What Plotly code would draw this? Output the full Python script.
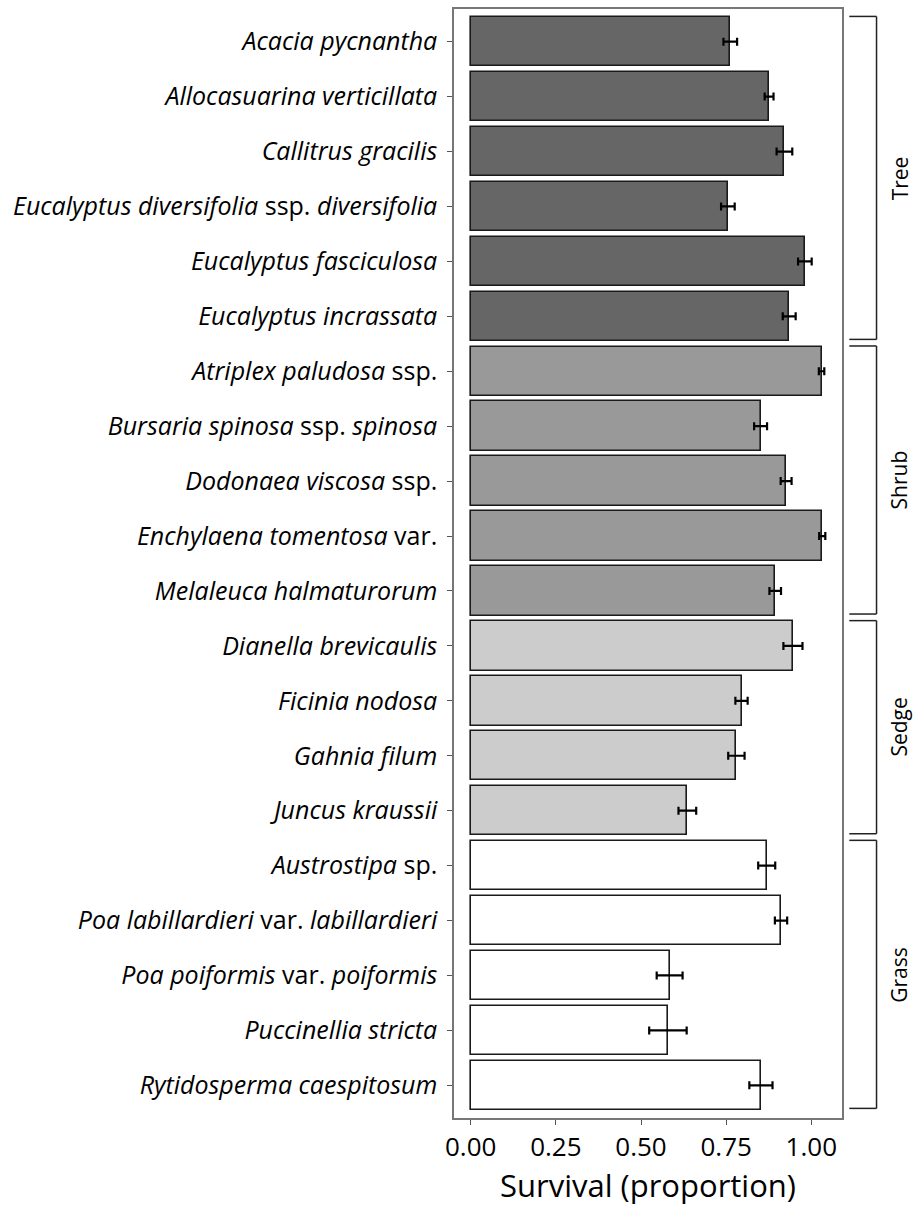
import plotly.graph_objects as go

species = [
    "<i>Acacia pycnantha</i>",
    "<i>Allocasuarina verticillata</i>",
    "<i>Callitrus gracilis</i>",
    "<i>Eucalyptus diversifolia</i> ssp. <i>diversifolia</i>",
    "<i>Eucalyptus fasciculosa</i>",
    "<i>Eucalyptus incrassata</i>",
    "<i>Atriplex paludosa</i> ssp.",
    "<i>Bursaria spinosa</i> ssp. <i>spinosa</i>",
    "<i>Dodonaea viscosa</i> ssp.",
    "<i>Enchylaena tomentosa</i> var.",
    "<i>Melaleuca halmaturorum</i>",
    "<i>Dianella brevicaulis</i>",
    "<i>Ficinia nodosa</i>",
    "<i>Gahnia filum</i>",
    "<i>Juncus kraussii</i>",
    "<i>Austrostipa</i> sp.",
    "<i>Poa labillardieri</i> var. <i>labillardieri</i>",
    "<i>Poa poiformis</i> var. <i>poiformis</i>",
    "<i>Puccinellia stricta</i>",
    "<i>Rytidosperma caespitosum</i>",
]
groups = ["Tree"] * 6 + ["Shrub"] * 5 + ["Sedge"] * 4 + ["Grass"] * 5
survival = [0.762, 0.876, 0.921, 0.755, 0.981, 0.935,
            1.030, 0.851, 0.926, 1.032, 0.894,
            0.946, 0.795, 0.780, 0.636,
            0.869, 0.911, 0.584, 0.579, 0.852]
se = [0.020, 0.013, 0.023, 0.020, 0.020, 0.019,
      0.008, 0.019, 0.016, 0.009, 0.017,
      0.028, 0.018, 0.024, 0.026,
      0.025, 0.018, 0.038, 0.055, 0.034]
group_order = ["Tree", "Shrub", "Sedge", "Grass"]
group_colors = {"Tree": "#666666", "Shrub": "#999999", "Sedge": "#cccccc", "Grass": "#ffffff"}
x_ticks = [0.0, 0.25, 0.5, 0.75, 1.0]
x_ticklabels = ["0.00", "0.25", "0.50", "0.75", "1.00"]

FONT = "Open Sans"
ypos = list(range(len(species)))

fig = go.Figure()
fig.add_trace(go.Bar(
    x=survival, y=ypos, orientation="h", width=0.9,
    marker=dict(color=[group_colors[g] for g in groups],
                line=dict(color="#1a1a1a", width=1.6)),
    error_x=dict(type="data", array=se, color="#000000", thickness=2.2, width=4),
    showlegend=False, hoverinfo="skip",
))

shapes = []
annotations = []
x_in, x_out = 1.0188, 1.089
for g in group_order:
    idx = [i for i, gg in enumerate(groups) if gg == g]
    top = idx[0] - 0.46
    bot = idx[-1] + 0.42
    lc = dict(color="#222222", width=1.5)
    shapes.append(dict(type="line", xref="paper", yref="y", x0=x_in, x1=x_out, y0=top, y1=top, line=lc))
    shapes.append(dict(type="line", xref="paper", yref="y", x0=x_in, x1=x_out, y0=bot, y1=bot, line=lc))
    shapes.append(dict(type="line", xref="paper", yref="y", x0=x_out, x1=x_out, y0=top, y1=bot, line=lc))
    annotations.append(dict(text=g, xref="paper", yref="y", x=1.148, y=(top + bot) / 2,
                            textangle=-90, showarrow=False, xanchor="center", yanchor="middle",
                            font=dict(family=FONT, size=21, color="#000000")))

fig.update_layout(
    width=914, height=1207,
    margin=dict(l=454, r=72, t=7, b=89),
    plot_bgcolor="white", paper_bgcolor="white",
    shapes=shapes, annotations=annotations,
    bargap=0,
)
fig.update_xaxes(
    range=[-0.049, 1.09], tickvals=x_ticks, ticktext=x_ticklabels,
    ticks="outside", ticklen=5, tickcolor="#555555", tickwidth=1.2,
    showline=True, linecolor="#777777", linewidth=1.5, mirror=True,
    showgrid=False, zeroline=False,
    tickfont=dict(family=FONT, size=26, color="#000000"),
    title=dict(text="Survival (proportion)", font=dict(family=FONT, size=31, color="#000000"), standoff=10),
)
fig.update_yaxes(
    range=[19.595, -0.595], tickvals=ypos, ticktext=species,
    ticks="outside", ticklen=5, tickcolor="#555555", tickwidth=1.2,
    showline=True, linecolor="#777777", linewidth=1.5, mirror=True,
    showgrid=False, zeroline=False,
    tickfont=dict(family=FONT, size=25, color="#000000"),
    ticklabelstandoff=5,
)

fig.write_html("out.html", config={"displayModeBar": False},
               post_script="document.body.style.margin='0px';")
